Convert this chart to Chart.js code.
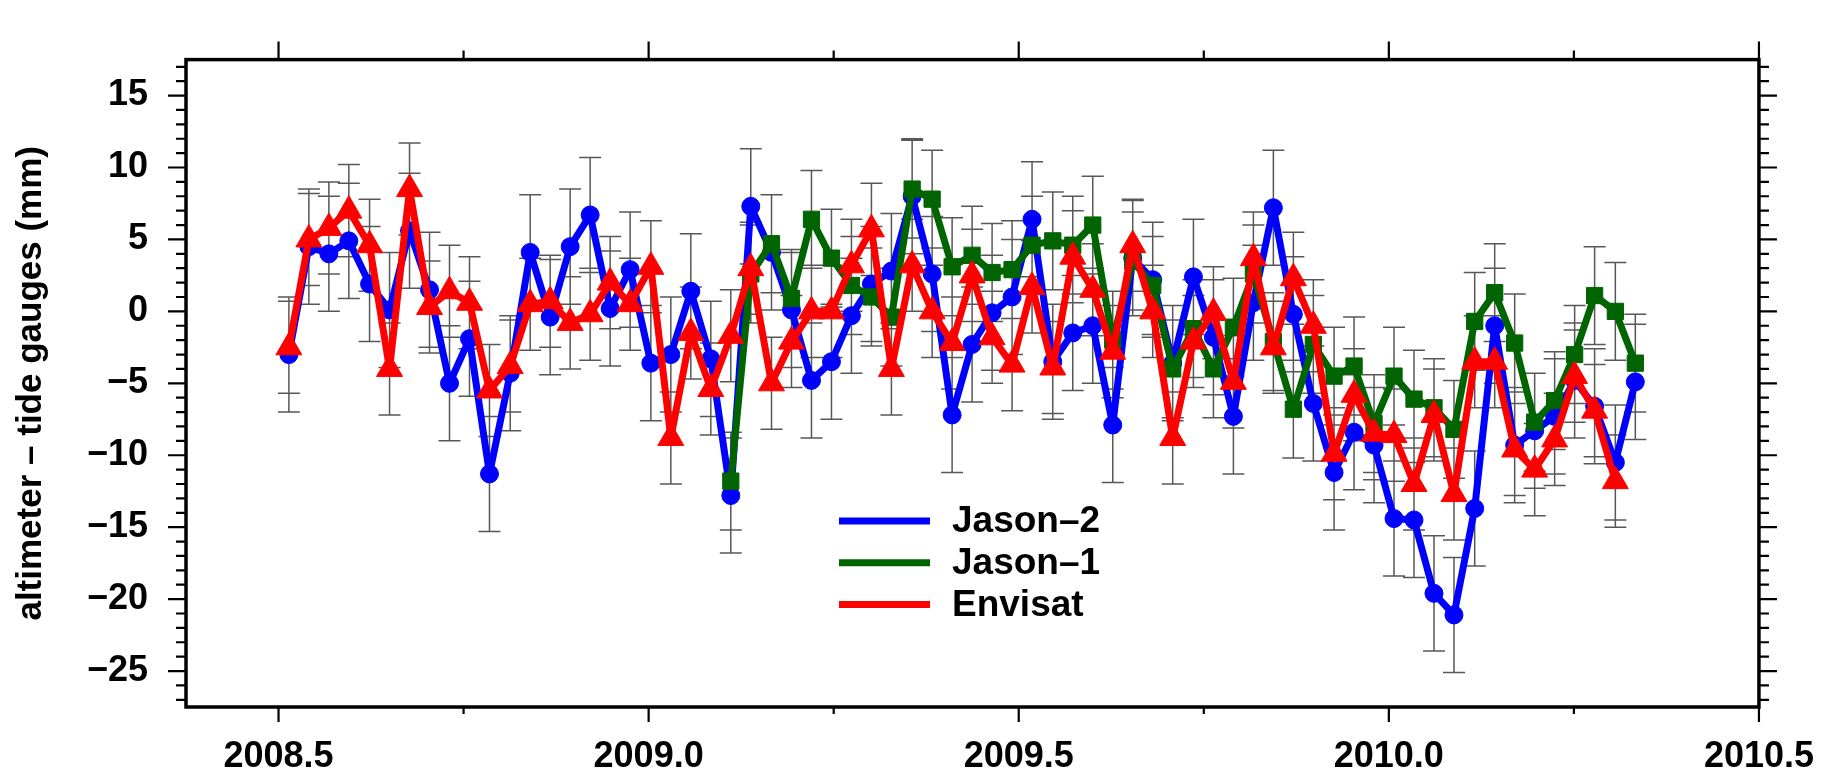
<!DOCTYPE html>
<html>
<head>
<meta charset="utf-8">
<title>altimeter – tide gauges</title>
<script src="https://cdn.jsdelivr.net/npm/chart.js@4.4.1/dist/chart.umd.min.js"></script>
<style>
  html, body { margin: 0; padding: 0; background: #fff; }
  #wrap { position: relative; width: 1842px; height: 775px; }
</style>
</head>
<body>
<div id="wrap"><canvas id="chart"></canvas></div>
<script>
const FONT = "'Liberation Sans', Arial, Helvetica, sans-serif";

// 10-day cycle epochs, decimal years
const cycleDates = [
  2008.514, 2008.541, 2008.568, 2008.595, 2008.623, 2008.650, 2008.677, 2008.704,
  2008.731, 2008.758, 2008.785, 2008.813, 2008.840, 2008.867, 2008.894, 2008.921,
  2008.948, 2008.975, 2009.003, 2009.030, 2009.057, 2009.084, 2009.111, 2009.138,
  2009.166, 2009.193, 2009.220, 2009.247, 2009.274, 2009.301, 2009.328, 2009.356,
  2009.383, 2009.410, 2009.437, 2009.464, 2009.491, 2009.518, 2009.546, 2009.573,
  2009.600, 2009.627, 2009.654, 2009.681, 2009.708, 2009.736, 2009.763, 2009.790,
  2009.817, 2009.844, 2009.871, 2009.898, 2009.926, 2009.953, 2009.980, 2010.007,
  2010.034, 2010.061, 2010.088, 2010.116, 2010.143, 2010.170, 2010.197, 2010.224,
  2010.251, 2010.278, 2010.306, 2010.333
];

// altimeter minus tide gauge, mm
const jason2Values = [
  -3.0, 4.5, 4.0, 4.9, 1.9, 0.1, 5.6, 1.5, -5.0, -1.9, -11.3, -4.3,
  4.1, -0.4, 4.5, 6.7, 0.2, 2.9, -3.6, -3.0, 1.4, -3.3, -12.8, 7.3,
  4.1, 0.1, -4.8, -3.5, -0.3, 1.9, 2.8, 8.0, 2.6, -7.2, -2.3, -0.1,
  1.0, 6.4, -3.5, -1.5, -1.0, -7.9, 3.7, 2.2, -3.6, 2.4, -1.8, -7.3,
  0.6, 7.2, -0.2, -6.4, -11.2, -8.4, -9.3, -14.4, -14.5, -19.6, -21.1, -13.7,
  -1.0, -9.3, -8.3, -7.3, -4.8, -6.6, -10.5, -4.9
];
const jason1Values = [
  -11.8, 2.6, 4.7, 0.9, 6.4, 3.7, 1.8, 1.0, -0.4, 8.5, 7.8, 3.1,
  3.9, 2.7, 2.9, 4.6, 4.9, 4.6, 6.0, -2.0, 3.5, 1.8, -4.0, -1.2,
  -4.0, -1.1, 2.6, -2.1, -6.8, -2.3, -4.5, -3.8, -7.8, -4.5, -6.1, -6.7,
  -8.2, -0.7, 1.3, -2.2, -7.7, -6.2, -3.0, 1.1, 0.0, -3.6
];
const envisatValues = [
  -2.5, 5.0, 5.8, 7.0, 4.6, -4.0, 8.5, 0.3, 1.4, 0.6, -5.5, -3.8,
  0.5, 0.7, -0.8, -0.2, 2.0, 0.5, 3.1, -8.8, -1.5, -5.4, -1.7, 3.0,
  -5.0, -2.1, 0.0, 0.0, 3.2, 5.7, -4.0, 3.2, 0.0, -2.2, 2.5, -1.8,
  -3.7, 1.7, -3.9, 3.8, 1.5, -2.8, 4.6, 0.0, -8.8, -2.1, -0.1, -4.9,
  3.7, -2.5, 2.3, -1.0, -9.9, -5.8, -8.5, -8.6, -12.0, -7.2, -12.7, -3.5,
  -3.5, -9.6, -11.0, -8.9, -4.5, -6.9, -11.8
];

// Jason-1 starts later, Envisat stops one cycle early
const jason2Dates = cycleDates;
const jason1Dates = cycleDates.slice(22);
const envisatDates = cycleDates.slice(0, 67);

// 1-sigma error bar half lengths, mm
const jason2Sigma = 4.0;
const jason1Sigma = 3.4;
const envisatSigma = 3.2;

const xTickLabels = [2008.5, 2009.0, 2009.5, 2010.0, 2010.5];
const xMinorTicks = [2008.5, 2008.75, 2009.0, 2009.25, 2009.5, 2009.75, 2010.0, 2010.25, 2010.5];
const yTickLabels = [-25, -20, -15, -10, -5, 0, 5, 10, 15];
const yMinorTicks = [
  -27, -26, -25, -24, -23, -22, -21, -20, -19, -18, -17, -16, -15, -14, -13,
  -12, -11, -10, -9, -8, -7, -6, -5, -4, -3, -2, -1, 0, 1, 2, 3, 4, 5, 6, 7,
  8, 9, 10, 11, 12, 13, 14, 15, 16, 17
];

function toPoints(dates, values) {
  return dates.map((t, i) => ({ x: t, y: values[i] }));
}

function series(label, color, dates, values, sigma, style, radius, order) {
  return {
    label,
    data: toPoints(dates, values),
    sigma,
    borderColor: color,
    backgroundColor: color,
    pointBackgroundColor: color,
    pointBorderColor: color,
    pointBorderWidth: 1,
    pointStyle: style,
    pointRadius: radius,
    borderWidth: 7,
    borderJoinStyle: 'round',
    tension: 0,
    fill: false,
    order
  };
}

// thin grey bars with caps, under all three curves
const errorBars = {
  id: 'errorBars',
  beforeDatasetsDraw(chart) {
    const { ctx, scales: { x, y } } = chart;
    ctx.save();
    ctx.strokeStyle = 'rgba(45,45,45,0.8)';
    ctx.lineWidth = 1.5;
    ctx.beginPath();
    chart.data.datasets.forEach(ds => {
      ds.data.forEach(p => {
        const px = x.getPixelForValue(p.x);
        const top = y.getPixelForValue(p.y + ds.sigma);
        const bot = y.getPixelForValue(p.y - ds.sigma);
        ctx.moveTo(px, top); ctx.lineTo(px, bot);
        ctx.moveTo(px - 11, top); ctx.lineTo(px + 11, top);
        ctx.moveTo(px - 11, bot); ctx.lineTo(px + 11, bot);
      });
    });
    ctx.stroke();
    ctx.restore();
  }
};

// box frame with outward ticks on all four sides
const frameTicks = {
  id: 'frameTicks',
  afterDraw(chart) {
    const { ctx, chartArea: a, scales: { x, y } } = chart;
    ctx.save();
    ctx.strokeStyle = '#000';
    ctx.lineWidth = 2.2;
    ctx.beginPath();
    yMinorTicks.forEach(v => {
      const py = y.getPixelForValue(v);
      const len = yTickLabels.includes(v) ? 18 : 10;
      ctx.moveTo(a.left, py); ctx.lineTo(a.left - len, py);
      ctx.moveTo(a.right, py); ctx.lineTo(a.right + len, py);
    });
    xMinorTicks.forEach(v => {
      const px = x.getPixelForValue(v);
      const major = xTickLabels.includes(v);
      ctx.moveTo(px, a.top); ctx.lineTo(px, a.top - (major ? 18 : 9));
      ctx.moveTo(px, a.bottom); ctx.lineTo(px, a.bottom + (major ? 15 : 7));
    });
    ctx.stroke();
    ctx.lineWidth = 3.5;
    ctx.strokeRect(a.left, a.top, a.width, a.height);
    ctx.restore();
  }
};

// legend sits inside the plot, below the curves
const insetLegend = {
  id: 'insetLegend',
  afterDatasetsDraw(chart) {
    const { ctx } = chart;
    ctx.save();
    ctx.font = `bold 37px ${FONT}`;
    ctx.textBaseline = 'middle';
    ctx.fillStyle = '#000';
    ctx.lineWidth = 7;
    ctx.lineCap = 'butt';
    chart.data.datasets.forEach((ds, i) => {
      const ly = 521 + i * 41.7;
      ctx.strokeStyle = ds.borderColor;
      ctx.beginPath();
      ctx.moveTo(839, ly);
      ctx.lineTo(930, ly);
      ctx.stroke();
      ctx.fillText(ds.label, 952, ly + 1);
    });
    ctx.restore();
  }
};

const minus = v => (v < 0 ? '\u2212' + Math.abs(v) : String(v));

new Chart(document.getElementById('chart'), {
  type: 'line',
  data: {
    datasets: [
      series('Jason\u20132', '#0000ff', jason2Dates, jason2Values, jason2Sigma, 'circle', 9, 2),
      series('Jason\u20131', '#006400', jason1Dates, jason1Values, jason1Sigma, 'rect', 11.5, 1),
      series('Envisat', '#ff0000', envisatDates, envisatValues, envisatSigma, 'triangle', 15, 0)
    ]
  },
  options: {
    animation: false,
    responsive: true,
    maintainAspectRatio: false,
    layout: { padding: { top: 26, right: 70, left: 0, bottom: 0 } },
    plugins: {
      legend: { display: false },
      tooltip: { enabled: false }
    },
    scales: {
      x: {
        type: 'linear',
        min: 2008.375,
        max: 2010.5,
        afterBuildTicks: s => { s.ticks = xTickLabels.map(v => ({ value: v })); },
        afterFit: s => { s.height = 68; },
        grid: { display: false, drawTicks: false },
        border: { display: false },
        ticks: {
          autoSkip: false,
          maxRotation: 0,
          padding: 28,
          color: '#000',
          font: { family: FONT, size: 36, weight: 'bold' },
          callback: v => v.toFixed(1)
        }
      },
      y: {
        min: -27.5,
        max: 17.5,
        afterBuildTicks: s => { s.ticks = yTickLabels.map(v => ({ value: v })); },
        afterFit: s => { s.width = 186; },
        grid: { display: false, drawTicks: false },
        border: { display: false },
        ticks: {
          padding: 38,
          color: '#000',
          font: { family: FONT, size: 36, weight: 'bold' },
          callback: v => minus(v)
        },
        title: {
          display: true,
          text: 'altimeter \u2013 tide gauges (mm)',
          color: '#000',
          padding: { top: 10, bottom: 0 },
          font: { family: FONT, size: 35, weight: 'bold' }
        }
      }
    }
  },
  plugins: [errorBars, frameTicks, insetLegend]
});
</script>
</body>
</html>
